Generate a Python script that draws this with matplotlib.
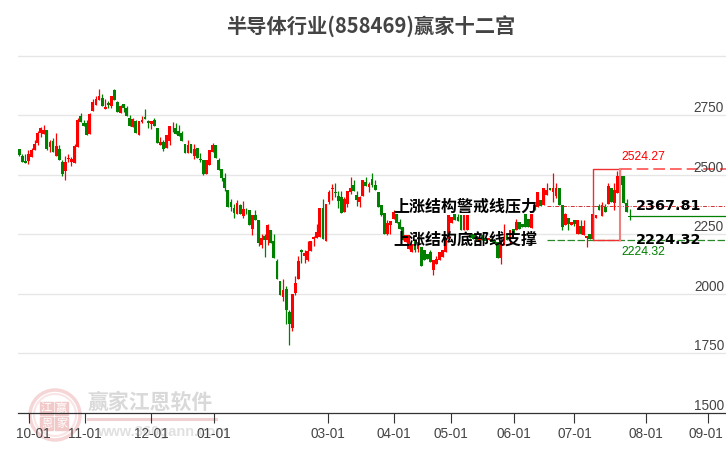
import matplotlib
matplotlib.use('Agg')
import numpy as np
import matplotlib.pyplot as plt
from matplotlib.patches import Circle, Rectangle

plt.rcParams['font.family'] = ['Liberation Sans', 'Noto Sans CJK SC', 'DejaVu Sans']

opens = [2609,2577,2556,2556,2573,2604,2633,2675,2670,2687,
         2616,2640,2579,2607,2552,2515,2566,2553,2549,2616,
         2745,2715,2715,2671,2768,2793,2813,2824,2776,2803,
         2789,2855,2804,2761,2796,2782,2737,2699,2724,2667,
         2723,2741,2727,2712,2729,2694,2625,2636,2611,2643,
         2699,2694,2685,2674,2630,2591,2630,2579,2614,2567,
         2563,2503,2540,2596,2624,2561,2523,2485,2437,2384,
         2359,2333,2373,2325,2353,2350,2272,2329,2308,2203,
         2244,2224,2266,2220,2136,2051,1986,2018,1921,1854,
         2002,2061,2182,2159,2140,2178,2230,2235,2238,2359,
         2221,2384,2439,2426,2409,2405,2343,2376,2426,2456,
         2413,2384,2409,2468,2447,2481,2456,2426,2371,2339,
         2249,2287,2315,2336,2301,2280,2217,2189,2175,2224,
         2189,2196,2182,2168,2175,2098,2126,2140,2154,2175,
         2231,2297,2336,2322,2332,2266,2266,2245,2252,2241,
         2221,2245,2235,2224,2231,2227,2217,2151,2203,2252,
         2224,2273,2266,2301,2294,2336,2315,2277,2371,2364,
         2395,2371,2414,2444,2425,2409,2444,2371,2287,2319,
         2287,2308,2252,2283,2245,2235,2252,2228,2319,2367,
         2325,2364,2378,2442,2381,2421,2456,2493,2381,2325]
closes = [2583,2553,2549,2588,2602,2630,2673,2695,2689,2609,
          2636,2595,2622,2562,2501,2555,2572,2567,2619,2729,
          2722,2705,2667,2754,2807,2820,2830,2789,2786,2792,
          2830,2814,2764,2788,2781,2747,2705,2733,2675,2724,
          2731,2734,2717,2727,2705,2633,2636,2609,2666,2705,
          2702,2671,2664,2640,2593,2623,2591,2609,2572,2560,
          2501,2560,2603,2624,2571,2519,2485,2444,2364,2364,
          2339,2380,2333,2354,2350,2287,2329,2308,2213,2235,
          2224,2287,2213,2148,2061,1992,2014,1929,1870,1999,
          2046,2136,2174,2169,2178,2220,2238,2258,2359,2230,
          2376,2426,2443,2422,2390,2339,2399,2430,2443,2430,
          2392,2405,2477,2451,2460,2456,2434,2363,2329,2249,
          2296,2304,2341,2297,2273,2224,2245,2245,2210,2182,
          2217,2116,2140,2147,2133,2140,2147,2175,2182,2231,
          2329,2322,2308,2306,2269,2329,2329,2235,2231,2224,
          2235,2227,2221,2235,2217,2210,2151,2210,2238,2224,
          2266,2252,2301,2273,2280,2280,2280,2336,2353,2428,
          2367,2442,2437,2435,2444,2444,2371,2280,2336,2291,
          2301,2294,2308,2249,2283,2241,2231,2333,2329,2353,
          2371,2343,2453,2385,2435,2493,2493,2381,2345,2321]
highs = [2609,2588,2588,2602,2614,2644,2684,2699,2708,2687,
         2644,2656,2673,2626,2560,2577,2586,2574,2630,2738,
         2761,2729,2729,2761,2817,2830,2858,2841,2820,2810,
         2830,2859,2810,2792,2796,2789,2750,2740,2729,2726,
         2745,2775,2729,2727,2740,2694,2658,2644,2666,2705,
         2720,2715,2708,2684,2630,2647,2630,2630,2614,2591,
         2563,2560,2603,2631,2624,2572,2523,2505,2437,2399,
         2376,2392,2376,2388,2361,2350,2329,2350,2308,2249,
         2249,2291,2266,2249,2147,2051,2060,2030,1929,1999,
         2072,2157,2186,2182,2220,2220,2241,2291,2359,2397,
         2376,2434,2460,2464,2430,2430,2405,2430,2489,2477,
         2430,2409,2477,2489,2468,2506,2477,2426,2371,2339,
         2308,2304,2350,2336,2315,2280,2245,2245,2210,2224,
         2217,2196,2182,2168,2182,2140,2160,2175,2182,2231,
         2329,2322,2336,2336,2332,2329,2329,2245,2252,2241,
         2235,2245,2235,2235,2231,2227,2217,2238,2294,2252,
         2266,2273,2315,2301,2294,2336,2315,2336,2371,2428,
         2395,2442,2463,2444,2505,2465,2444,2371,2340,2319,
         2301,2308,2308,2308,2308,2241,2252,2333,2329,2378,
         2385,2378,2463,2442,2463,2516,2526,2493,2399,2357]
lows = [2580,2553,2549,2545,2573,2604,2623,2658,2670,2604,
        2595,2595,2579,2562,2493,2476,2553,2535,2549,2616,
        2722,2705,2667,2671,2768,2793,2813,2789,2776,2781,
        2781,2814,2764,2761,2764,2747,2705,2699,2675,2667,
        2715,2734,2696,2691,2705,2633,2625,2600,2611,2623,
        2680,2671,2664,2640,2593,2591,2591,2567,2572,2553,
        2497,2503,2540,2596,2571,2519,2474,2432,2364,2346,
        2317,2333,2333,2317,2333,2287,2245,2308,2200,2193,
        2152,2203,2213,2148,2061,1992,1967,1870,1782,1841,
        1993,2061,2130,2127,2136,2178,2199,2235,2238,2230,
        2221,2376,2392,2404,2359,2339,2343,2363,2418,2430,
        2367,2363,2409,2451,2426,2447,2434,2363,2325,2249,
        2245,2252,2315,2297,2273,2224,2217,2189,2175,2175,
        2175,2116,2140,2147,2133,2077,2126,2140,2154,2175,
        2231,2297,2308,2306,2269,2266,2266,2235,2231,2224,
        2221,2227,2221,2224,2217,2210,2151,2123,2203,2224,
        2210,2252,2266,2273,2280,2280,2280,2277,2353,2364,
        2367,2371,2414,2435,2385,2400,2371,2266,2287,2266,
        2287,2283,2252,2249,2245,2196,2231,2228,2319,2353,
        2325,2343,2378,2385,2350,2421,2456,2381,2345,2308]

grid_levels = [1750, 2000, 2250, 2500, 2750, 3000]
y_ticks = [1500, 1750, 2000, 2250, 2500, 2750]
y_labels = ['1500', '1750', '2000', '2250', '2500', '2750']
month_labels = ['10-01', '11-01', '12-01', '01-01', '03-01', '04-01', '05-01', '06-01', '07-01', '08-01', '09-01']
month_pos = [3.3, 21.3, 42.9, 63.5, 100.6, 122, 140.6, 161.2, 181, 204.3, 224.5]
label_shift = [1.2, 0, 0, 0, 0, 0, 0, 0, 0, 0, -0.5]

press_level = 2367.81
support_level = 2224.32
top_level = 2524.27
last_close = 2325
box_start = 187
box_end = 196

RED = '#ff0000'
GREEN = '#008000'
CJK = ['Noto Sans CJK SC', 'DejaVu Sans']

fig = plt.figure(figsize=(7.26, 4.5), dpi=100)

# watermark sits under the chart
wm = fig.add_axes([0, 0, 1, 1], zorder=0)
wm.set_xlim(0, 726)
wm.set_ylim(450, 0)
wm.axis('off')
wm.add_patch(Circle((55, 415), 25, fill=False, ec='#f5d5d5', lw=2.5))
wm.add_patch(Circle((55, 415), 21, fill=False, ec='#f9e5e5', lw=1.5))
for (bx, by), ch in zip([(40, 402), (55, 402), (40, 417), (55, 417)], '江赢恩家'):
    wm.add_patch(Rectangle((bx, by), 13, 13, color='#f2c9c9'))
    wm.text(bx + 6.5, by + 6.5, ch, color='white', fontsize=8, ha='center', va='center', family=CJK)
wm.text(88, 402, '赢家江恩软件', color='#d9d9d9', fontsize=15, fontweight='bold', va='center', family=CJK)
wm.plot([88, 216], [419, 419], color='#f0d0d0', lw=2.2)
wm.text(97, 432, 'www.360gann.com', color='#e0e0e0', fontsize=10.5, fontweight='bold', va='center')

ax = fig.add_axes([18 / 726, 37.5 / 450, 708 / 726, 372.5 / 450], zorder=1)
ax.patch.set_alpha(0)
ax.set_xlim(-0.42, 230.4)
ax.set_ylim(1500, 3066)
for s in ['top', 'left', 'right']:
    ax.spines[s].set_visible(False)
ax.spines['bottom'].set_color('#333333')
ax.spines['bottom'].set_linewidth(0.9)
ax.set_yticks([])
ax.set_xticks(month_pos)
ax.set_xticklabels([])
ax.tick_params(axis='x', length=7, width=0.8, color='#333333')

for v in grid_levels:
    ax.axhline(v, color='#e6e6e6', lw=1.0, zorder=1)

x = np.arange(len(opens))
o = np.array(opens)
c = np.array(closes)
up = c > o
colors = np.where(up, RED, GREEN)
ax.vlines(x, lows, highs, colors=colors, lw=0.9, zorder=3)
ax.bar(x, np.abs(c - o), bottom=np.minimum(o, c), width=0.92, color=colors, lw=0, zorder=4)

# levels
ax.plot([box_end, 230.4], [top_level, top_level], color='#ff5050', lw=1.2, dashes=(7, 3), zorder=5)
ax.plot([172, 230.4], [press_level, press_level], color='#d03030', lw=0.7, dashes=(4, 1.5, 1, 1.5), zorder=5)
ax.plot([172, 230.4], [support_level, support_level], color='#2a8a2a', lw=0.9, dashes=(6, 2), zorder=5)
ax.plot([len(opens) - 1, 230.4], [last_close, last_close], color=GREEN, lw=0.9, zorder=5)
ax.plot([box_end, box_start, box_start, box_end], [top_level, top_level, support_level, support_level],
        color='#f03030', lw=1.0, zorder=5)
ax.plot([box_end, box_end], [top_level, support_level], color='#f08080', lw=1.5, zorder=5)

# right labels
for v, t in zip(y_ticks, y_labels):
    ax.annotate(t, (1, v), xycoords=('axes fraction', 'data'), xytext=(-1.5, 0), textcoords='offset points',
                ha='right', va='bottom', fontsize=9.8, color='#444444', zorder=6)

for p, s, t in zip(month_pos, label_shift, month_labels):
    ax.text(p + s, -0.0565, t, transform=ax.get_xaxis_transform(), ha='center', va='center',
            fontsize=9.8, color='#444444', clip_on=False)

ax.text(196.4, top_level + 50, '2524.27', color=RED, fontsize=8.8, va='center')
ax.text(196.4, support_level - 50, '2224.32', color=GREEN, fontsize=8.8, va='center')
ax.text(121.8, press_level, '上涨结构警戒线压力', color='black', fontsize=11.5, va='center',
        family=CJK, fontweight='bold', zorder=7)
ax.text(121.8, support_level, '上涨结构底部线支撑', color='black', fontsize=11.5, va='center',
        family=CJK, fontweight='bold', zorder=7)
ax.text(201, press_level, '2367.81', color='black', fontsize=10.4, va='center', fontweight='bold',
        family='DejaVu Sans', zorder=7)
ax.text(201, support_level, '2224.32', color='black', fontsize=10.4, va='center', fontweight='bold',
        family='DejaVu Sans', zorder=7)

fig.text(371 / 726, 1 - 26.5 / 450, '半导体行业(858469)赢家十二宫', ha='center', va='center', fontsize=14.6,
         fontweight='bold', color='#444444', family=CJK)

fig.savefig('out.png', dpi=100)
